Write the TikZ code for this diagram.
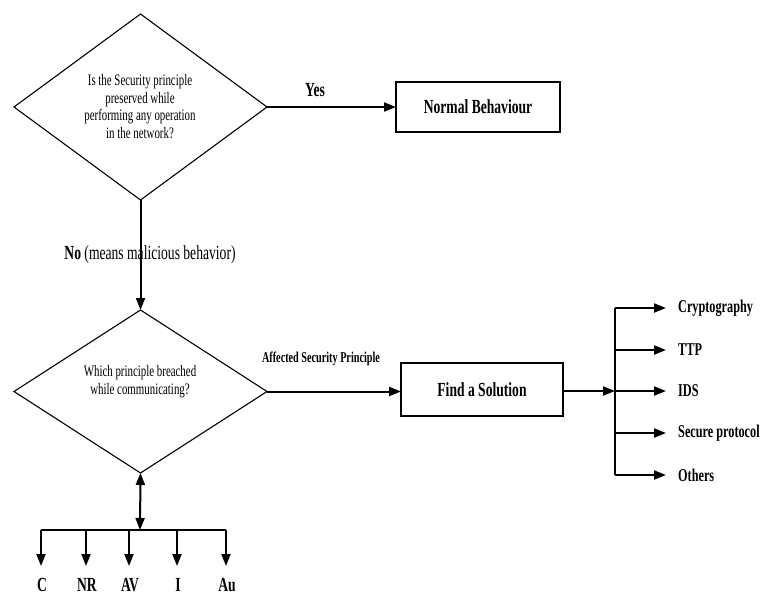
\documentclass[tikz,border=0pt]{standalone}
\usepackage{fontspec}
\setmainfont{Liberation Serif}[FakeStretch=0.68]
\usetikzlibrary{shapes.geometric,arrows.meta}

\begin{document}
\begin{tikzpicture}[x=1pt,y=-1pt,
  decision/.style={diamond, draw, line width=1.1pt, inner sep=0pt, outer sep=0pt},
  procbox/.style={draw, line width=2pt, inner sep=0pt, outer sep=0pt},
  qtext/.style={align=center, font=\fontsize{16}{17.5}\selectfont},
  blabel/.style={font=\fontsize{20}{22}\selectfont\bfseries, inner sep=0pt},
  slabel/.style={font=\fontsize{18}{20}\selectfont\bfseries, inner sep=0pt, anchor=west},
  flow/.style={line width=2pt, -{Triangle[length=12pt,width=9pt]}},
  twoway/.style={line width=2pt, {Triangle[length=12pt,width=9pt]}-{Triangle[length=12pt,width=9pt]}},
  plain/.style={line width=2pt}
]
\useasboundingbox (0,0) rectangle (762,596);

% first decision
\node[decision, minimum width=253pt, minimum height=186pt] (q1) at (140.5,107) {};
\node[qtext] (q1t) at (140,106.5) {Is the Security principle\\preserved while\\performing any operation\\in the network?};

% normal case
\node[procbox, minimum width=164pt, minimum height=50pt] (normal) at (478,107)
  {\fontsize{20}{22}\selectfont\bfseries Normal Behaviour};
\draw[flow] (q1.east) -- (normal.west);
\node[blabel] (yes) at (315,90) {Yes};

% second decision
\node[decision, minimum width=253pt, minimum height=163pt] (q2) at (140.5,391.5) {};
\node[qtext] (q2t) at (140,381.5) {Which principle breached\\while communicating?};
\draw[flow] (q1.south) -- (q2.north);
\node[inner sep=0pt, font=\fontsize{20}{22}\selectfont] (no) at (150,255)
  {\textbf{No} (means malicious behavior)};

% solution
\node[procbox, minimum width=162pt, minimum height=53pt] (sol) at (482,389.5)
  {\fontsize{20}{22}\selectfont\bfseries Find a Solution};
\coordinate (solin) at (sol.west |- q2.east);
\draw[flow] (q2.east) -- (solin);
\node[inner sep=0pt, font=\fontsize{15}{17}\selectfont\bfseries] (asp) at (321,359) {Affected Security Principle};

% solution options
\coordinate (bar) at (615,391);
\coordinate (bartop) at (615,308);
\coordinate (barbot) at (615,475);
\draw[flow] (sol.east |- bar) -- (bar);
\draw[plain] (bartop) -- (barbot);
\foreach \y/\name/\txt in {308/crypto/Cryptography, 350/ttp/TTP, 391/ids/IDS, 433/secproto/Secure protocol, 475/others/Others}{
  \coordinate (\name a) at (615,\y);
  \coordinate (\name b) at (666,\y);
  \draw[flow] (\name a) -- (\name b);
  \node[slabel] (\name) at (678,\y) {\txt};
}

% breached principles
\coordinate (hub) at (140,530);
\coordinate (hubl) at (41,530);
\coordinate (hubr) at (226,530);
\draw[twoway] (q2.south) -- (hub);
\draw[plain] (hubl) -- (hubr);
\foreach \x/\name/\txt in {41/c/C, 86/nr/NR, 129/av/AV, 177/i/I, 226/au/Au}{
  \coordinate (\name top) at (\x,530);
  \coordinate (\name tip) at (\x,566);
  \draw[flow] (\name top) -- (\name tip);
  \node[blabel] (\name) at (\x+1,585) {\txt};
}
\end{tikzpicture}
\end{document}
